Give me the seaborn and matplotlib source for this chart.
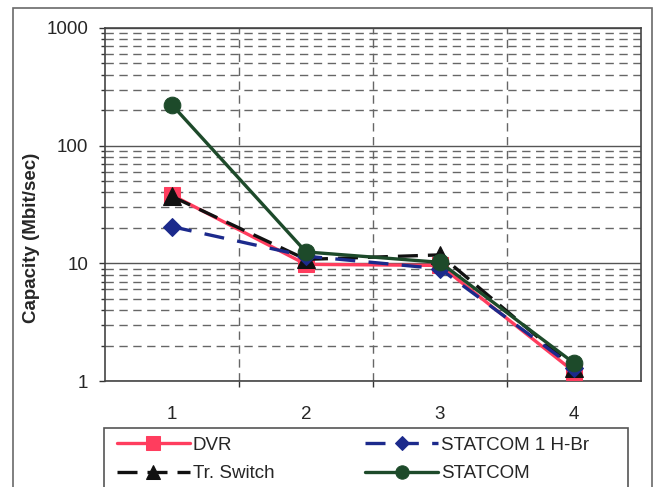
import matplotlib
matplotlib.use("Agg")
import matplotlib.pyplot as plt
import matplotlib.ticker as mticker
from matplotlib.patches import Rectangle
import numpy as np
import pandas as pd
import seaborn as sns

# Capacity per case for each compensator type
cases = [1, 2, 3, 4]
dvr = [38, 9.8, 9.6, 1.2]
tr_switch = [37, 10.8, 11.8, 1.3]
statcom_hbr = [20.5, 11.5, 9.0, 1.3]
statcom = [222, 12.5, 10.2, 1.42]

series_names = ["DVR", "Tr. Switch", "STATCOM 1 H-Br", "STATCOM"]
series_values = [dvr, tr_switch, statcom_hbr, statcom]

df = pd.DataFrame({
    "case": np.tile(cases, len(series_names)),
    "capacity": np.concatenate(series_values),
    "series": np.repeat(series_names, len(cases)),
})

styles = {
    "DVR": dict(color="#ff3d5e", marker="s", ms=12, dashes=None),
    "Tr. Switch": dict(color="#111111", marker="^", ms=12.5, dashes=(6, 3)),
    "STATCOM 1 H-Br": dict(color="#1c2a8c", marker="D", ms=9.5, dashes=(6, 4)),
    "STATCOM": dict(color="#1d4a2a", marker="o", ms=12, dashes=None),
}

sns.set_style("white")
plt.rcParams["font.family"] = ["Liberation Sans", "DejaVu Sans"]

fig = plt.figure(figsize=(6.55, 4.87), dpi=100)
ax = fig.add_axes([105 / 655, 1 - 381 / 487, 536 / 655, 353 / 487])

# outer chart frame
fig.patches.append(Rectangle((13 / 655, -0.05), 639 / 655, 1.05 - 8 / 487,
                             transform=fig.transFigure, fill=False,
                             edgecolor="#6a6a6a", lw=1.2, zorder=0))
# legend frame, running off the bottom edge
fig.patches.append(Rectangle((104 / 655, -0.05), 524 / 655, 0.05 + 1 - 428 / 487,
                             transform=fig.transFigure, fill=False,
                             edgecolor="#555555", lw=1.2, zorder=0))

handles = {}
for name in series_names:
    st = styles[name]
    sub = df[df["series"] == name]
    sns.lineplot(data=sub, x="case", y="capacity", ax=ax, color=st["color"],
                 marker=st["marker"], markersize=st["ms"], lw=2.4,
                 markeredgecolor=st["color"], legend=False, zorder=3)
    line = ax.lines[-1]
    if st["dashes"] is not None:
        line.set_dashes(st["dashes"])
    handles[name] = line

ax.set_yscale("log")
ax.set_ylim(1, 1000)
ax.set_xlim(0.5, 4.5)

ax.yaxis.set_major_locator(mticker.LogLocator(base=10, numticks=10))
ax.yaxis.set_minor_locator(mticker.LogLocator(base=10, subs=np.arange(2, 10), numticks=20))
ax.yaxis.set_major_formatter(mticker.FuncFormatter(lambda v, p: f"{v:g}"))
ax.yaxis.set_minor_formatter(mticker.NullFormatter())

ax.set_xticks(cases)
ax.set_xticklabels([str(c) for c in cases])
ax.set_xticks([1.5, 2.5, 3.5], minor=True)
ax.tick_params(left=True, bottom=True, which="both")
ax.tick_params(axis="x", which="major", length=0, pad=18, labelsize=13.5)
ax.tick_params(axis="x", which="minor", length=4, direction="out", color="#333333", width=1)
ax.tick_params(axis="y", which="major", length=4, direction="out", labelsize=13.5, pad=8,
               color="#333333", width=1)
ax.tick_params(axis="y", which="minor", length=3, direction="out", color="#333333", width=1)

ax.grid(False)
ax.yaxis.grid(True, which="major", color="#555555", lw=1.0, ls="-")
ax.yaxis.grid(True, which="minor", color="#666666", lw=1.0, ls=(0, (6, 4)))
for xv in [1.5, 2.5, 3.5]:
    ax.axvline(xv, color="#666666", lw=1.0, ls=(0, (6, 4)), zorder=1)

for sp in ax.spines.values():
    sp.set_color("#444444")
    sp.set_linewidth(1.2)

ax.set_xlabel("")
ax.set_ylabel("Capacity (Mbit/sec)", fontsize=13.5, fontweight="bold")
ax.yaxis.set_label_coords(-0.121, 0.405)

leg = fig.legend([handles[n] for n in series_names], series_names,
                 loc="upper left", bbox_to_anchor=(111 / 655, 1 - 431 / 487),
                 ncol=2, frameon=False, fontsize=13.5,
                 handlelength=3.9, handletextpad=0.15, borderpad=0.3, borderaxespad=0,
                 labelspacing=0.62, columnspacing=4.85, markerscale=0.8)

fig.savefig("out.png", dpi=100)
